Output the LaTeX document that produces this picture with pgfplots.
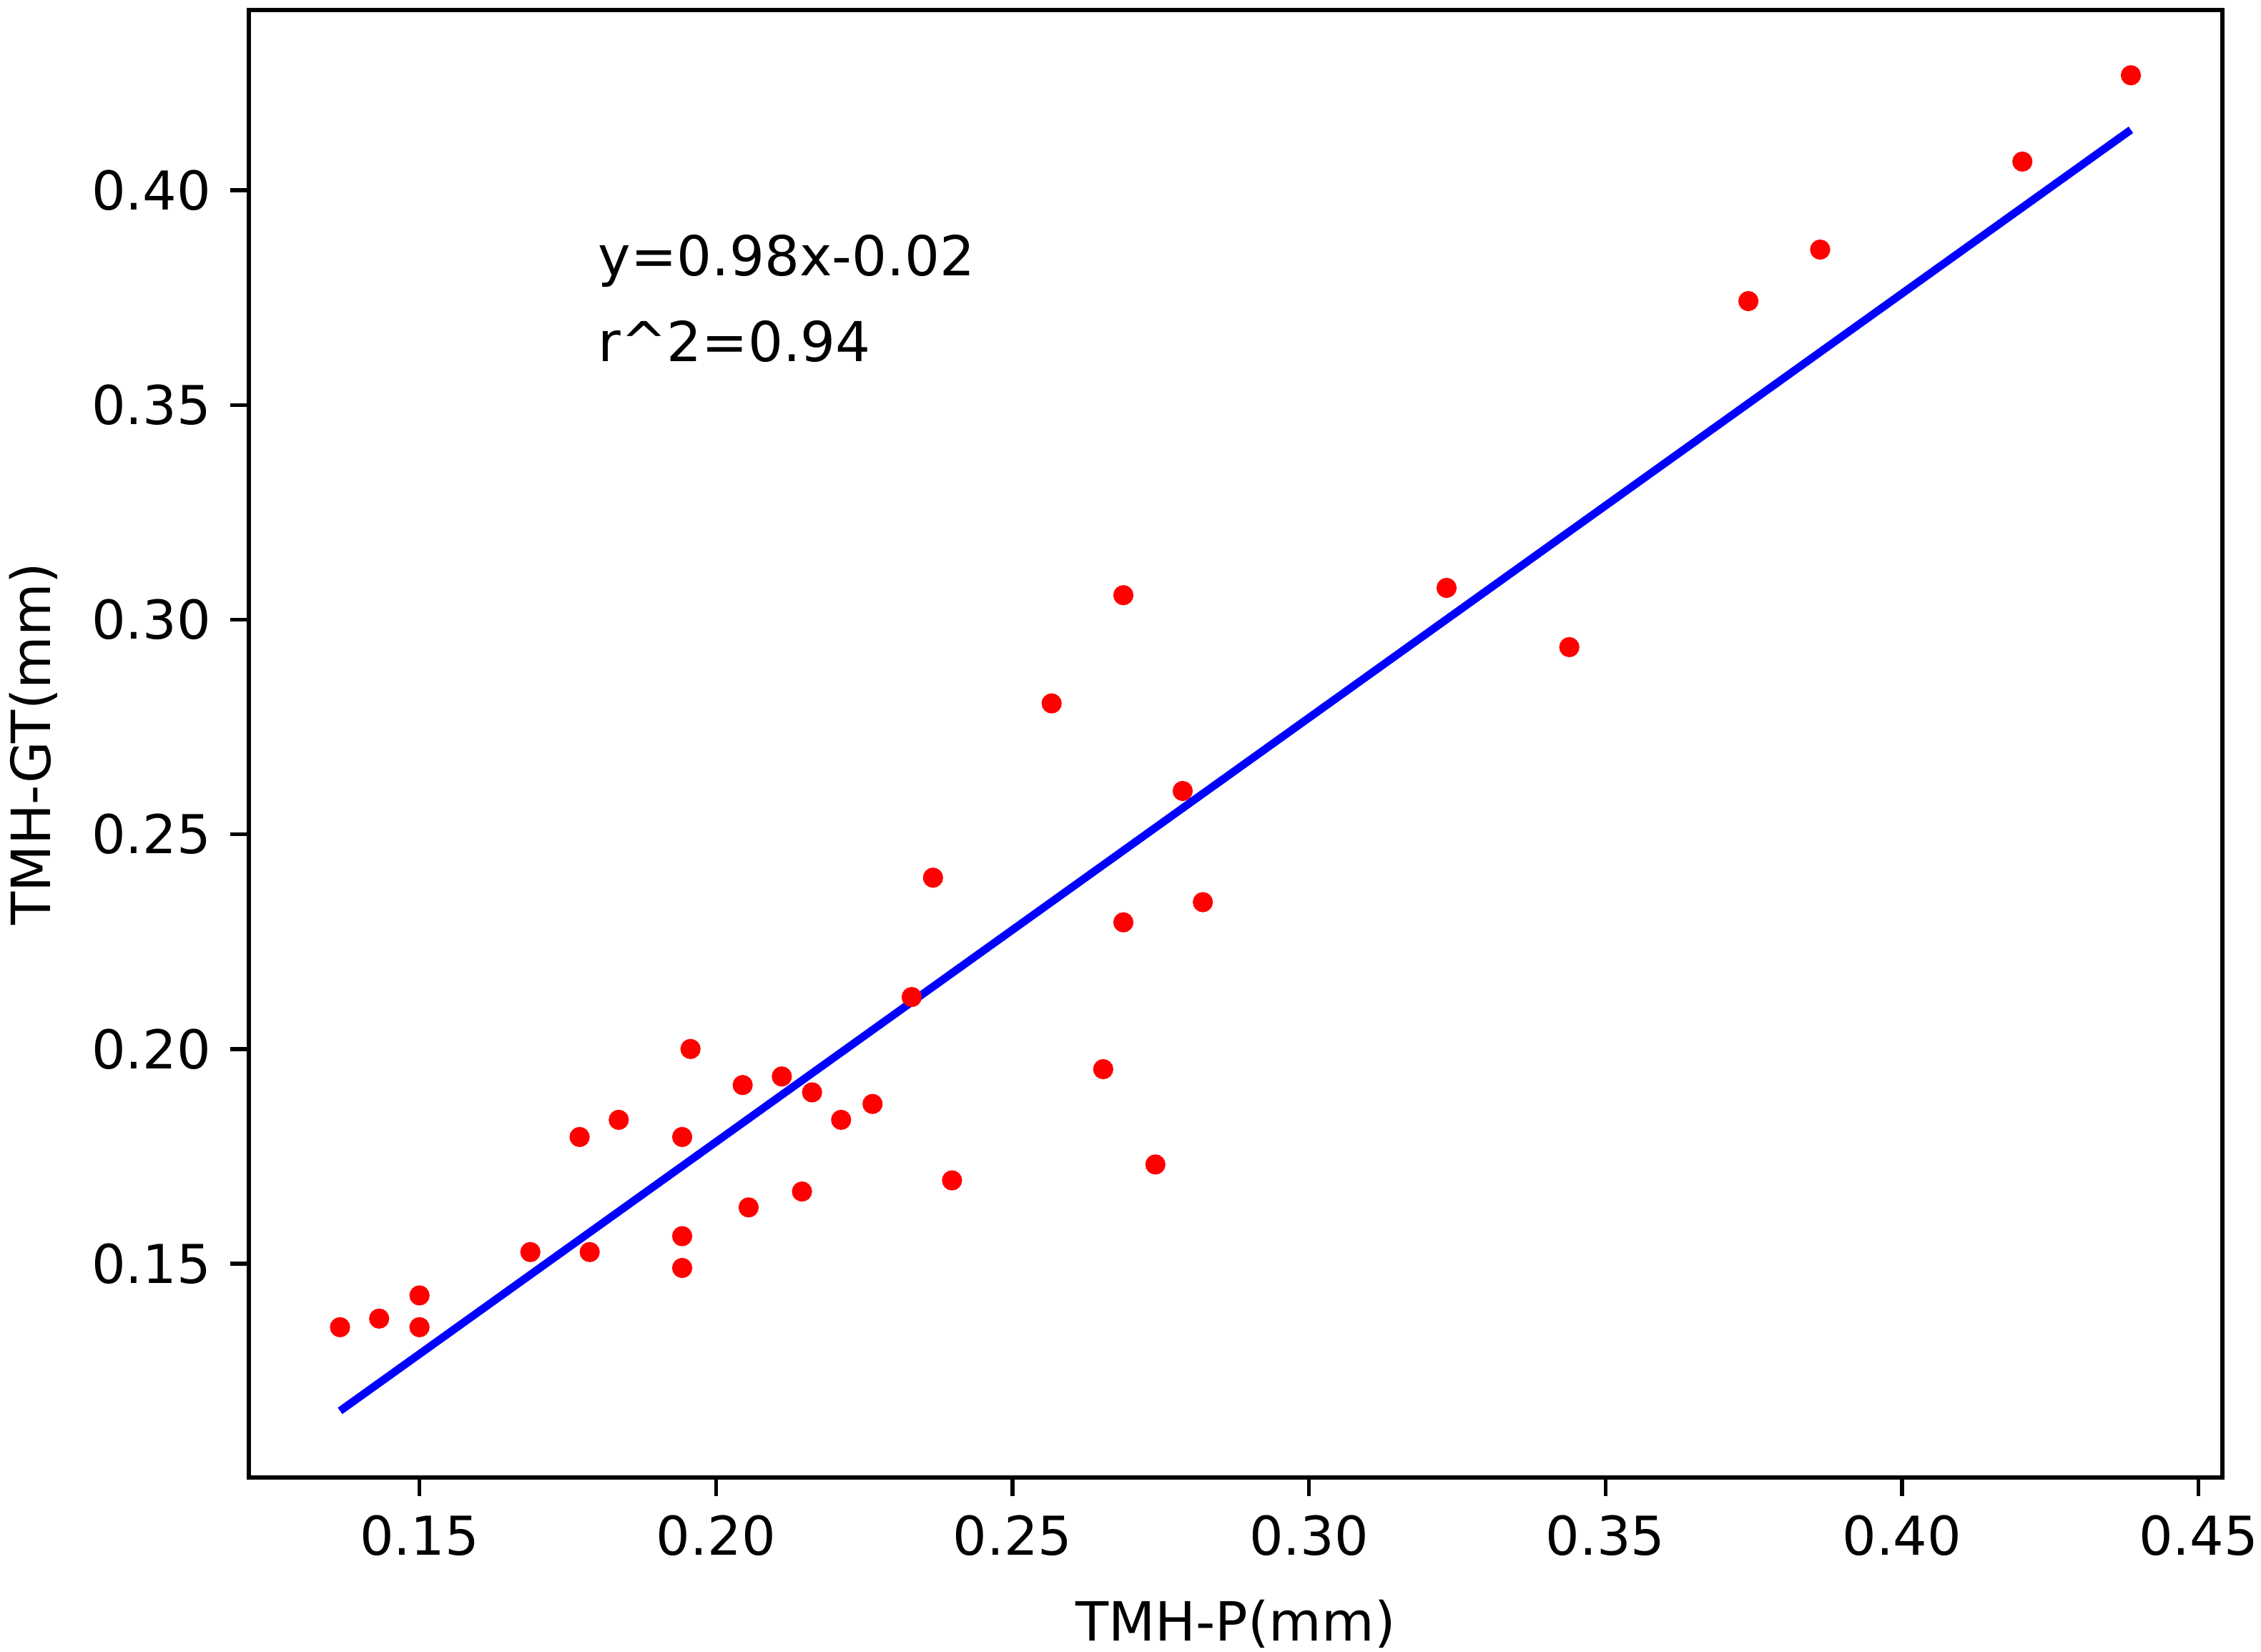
\documentclass[border=0pt]{standalone}
\usepackage{fontspec}
\setmainfont{DejaVu Sans}
\usepackage{pgfplots}
\pgfplotsset{compat=1.18}
\begin{document}
\fontsize{11}{13.2}\selectfont
\begin{tikzpicture}
\begin{axis}[
  scale only axis, width=401.5pt, height=298.5pt,
  xmin=0.1212, xmax=0.4540, ymin=0.1002, ymax=0.4420,
  xtick={0.15,0.20,0.25,0.30,0.35,0.40,0.45},
  ytick={0.15,0.20,0.25,0.30,0.35,0.40},
  tick pos=left, tick align=outside, major tick length=3.8pt,
  axis line style={line width=0.8pt},
  every tick/.style={black, line width=0.8pt},
  /pgf/number format/fixed, /pgf/number format/fixed zerofill,
  /pgf/number format/precision=2, /pgf/number format/assume math mode=true,
  tick label style={font=\fontsize{10.9}{13}\selectfont},
  label style={font=\fontsize{11}{13.2}\selectfont},
  xlabel={TMH-P(mm)}, ylabel={TMH-GT(mm)},
  xlabel style={at={(axis description cs:0.5,-0.1116)}, anchor=base},
  ylabel style={at={(axis description cs:-0.1006,0.5)}, anchor=base, rotate=0},
  clip=false,
]
\addplot[only marks, mark=*, mark size=1.85pt, color=red, mark options={draw=red, fill=red}] coordinates {
(0.1366,0.1352) (0.1432,0.1372) (0.1500,0.1426) (0.1500,0.1352)
(0.1687,0.1527) (0.1770,0.1795) (0.1787,0.1527) (0.1836,0.1835)
(0.1943,0.1795) (0.1943,0.1564) (0.1943,0.1490) (0.1957,0.2000)
(0.2045,0.1916) (0.2055,0.1631) (0.2111,0.1936) (0.2145,0.1668)
(0.2162,0.1899) (0.2211,0.1835) (0.2264,0.1872) (0.2330,0.2121)
(0.2366,0.2399) (0.2398,0.1694) (0.2566,0.2805) (0.2653,0.1953)
(0.2687,0.3057) (0.2687,0.2295) (0.2741,0.1731) (0.2787,0.2601)
(0.2821,0.2342) (0.3232,0.3074) (0.3439,0.2936) (0.3741,0.3742)
(0.3862,0.3862) (0.4203,0.4067) (0.4386,0.4268)
};
\addplot[color=blue, line width=1.6pt] coordinates {(0.1366,0.1157) (0.4386,0.4141)};
\node[anchor=base west, inner sep=0pt, font=\fontsize{11.2}{13.4}\selectfont] at (axis cs:0.1800,0.3802) {y=0.98x-0.02};
\node[anchor=base west, inner sep=0pt, font=\fontsize{11.2}{13.4}\selectfont] at (axis cs:0.1800,0.3602) {r\textasciicircum 2=0.94};
\end{axis}
\pgfresetboundingbox
\path ([shift={(-50.6pt,-35.4pt)}]current axis.south west) rectangle ([shift={(7.9pt,2.04pt)}]current axis.north east);
\end{tikzpicture}
\end{document}
